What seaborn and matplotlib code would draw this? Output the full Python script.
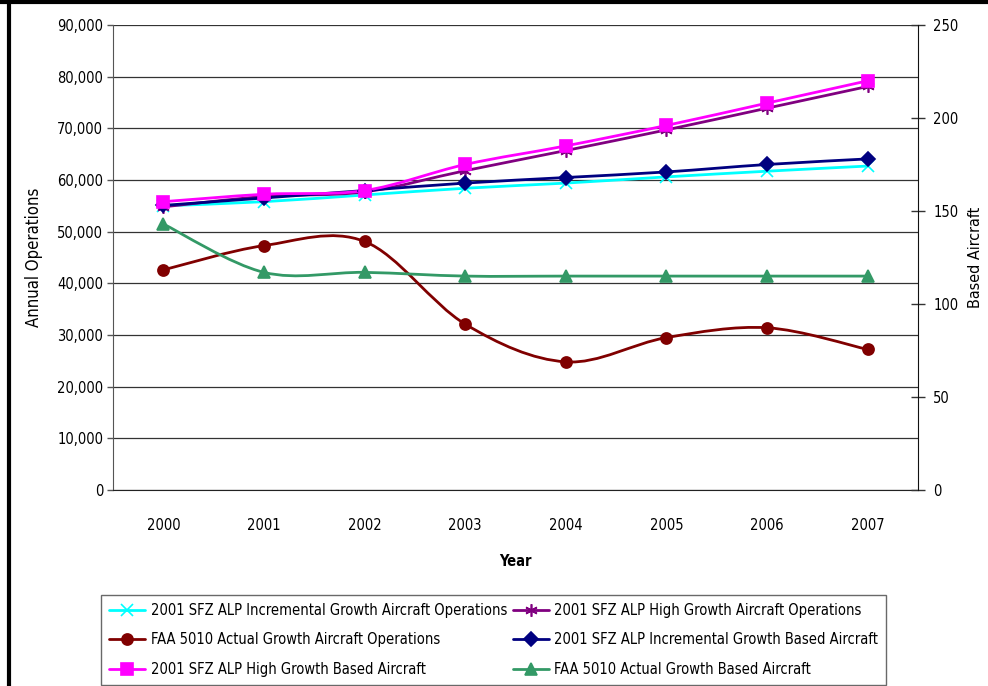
import numpy as np
import matplotlib
matplotlib.use('Agg')
import matplotlib.pyplot as plt
from matplotlib.path import Path
from matplotlib.patches import PathPatch
from matplotlib.lines import Line2D
import seaborn as sns

# Data
years = ['2000', '2001', '2002', '2003', '2004', '2005', '2006', '2007']
ops_incremental = [55000, 55800, 57100, 58400, 59400, 60600, 61700, 62700]
ops_high = [54800, 56800, 57700, 61800, 65700, 69700, 73900, 78100]
ops_actual = [42600, 47300, 48100, 32100, 24800, 29500, 31400, 27200]
based_incremental = [153, 157, 161, 165, 168, 171, 175, 178]
based_high = [155, 159, 161, 175, 185, 196, 208, 220]
based_actual = [143, 117, 117, 115, 115, 115, 115, 115]

sns.set_style('white')
plt.rcParams['font.family'] = ['DejaVu Sans']
plt.rcParams['font.stretch'] = 'condensed'
plt.rcParams['font.size'] = 10.5
plt.rcParams['text.color'] = 'black'
plt.rcParams['axes.labelcolor'] = 'black'
plt.rcParams['xtick.color'] = 'black'
plt.rcParams['ytick.color'] = 'black'


def smooth_path(xs, ys):
    # Excel style smoothed line: Catmull-Rom tangents turned into cubic Bezier segments
    pts = np.column_stack([xs, ys]).astype(float)
    n = len(pts)
    verts = [pts[0]]
    codes = [Path.MOVETO]
    for i in range(n - 1):
        p0 = pts[i - 1] if i > 0 else pts[i]
        p1 = pts[i]
        p2 = pts[i + 1]
        p3 = pts[i + 2] if i + 2 < n else pts[i + 1]
        c1 = p1 + (p2 - p0) / 6.0
        c2 = p2 - (p3 - p1) / 6.0
        verts += [c1, c2, p2]
        codes += [Path.CURVE4] * 3
    return Path(verts, codes)


fig = plt.figure(figsize=(9.88, 6.86), dpi=100)
ax = fig.add_axes([0.1144, 0.2857, 0.8148, 0.6779])
ax2 = ax.twinx()

x = np.arange(len(years))

series = [
    (ax, ops_incremental, '#00FFFF', 'x', 8, '2001 SFZ ALP Incremental Growth Aircraft Operations'),
    (ax, ops_high, '#800080', (6, 2, 0), 9, '2001 SFZ ALP High Growth Aircraft Operations'),
    (ax, ops_actual, '#800000', 'o', 8, 'FAA 5010 Actual Growth Aircraft Operations'),
    (ax2, based_incremental, '#000080', 'D', 7, '2001 SFZ ALP Incremental Growth Based Aircraft'),
    (ax2, based_high, '#FF00FF', 's', 8.5, '2001 SFZ ALP High Growth Based Aircraft'),
    (ax2, based_actual, '#339966', '^', 9, 'FAA 5010 Actual Growth Based Aircraft'),
]

handles = {}
for a, vals, col, mk, ms, lab in series:
    patch = PathPatch(smooth_path(x, vals), fill=False, edgecolor=col, lw=2, transform=a.transData, zorder=3)
    a.add_patch(patch)
    sns.lineplot(x=x, y=vals, ax=a, color=col, marker=mk, markersize=ms, linestyle='',
                 markeredgecolor=col, markeredgewidth=1.2, legend=False, zorder=4)
    handles[lab] = Line2D([], [], color=col, lw=2, marker=mk, markersize=ms,
                          markeredgecolor=col, markeredgewidth=1.2)

# left axis
ax.set_xlim(-0.5, len(years) - 0.5)
ax.set_ylim(0, 90000)
ax.set_yticks(np.arange(0, 90001, 10000))
ax.set_yticklabels([f'{v:,}' for v in range(0, 90001, 10000)])
ax.grid(axis='y', color='#333333', lw=0.9)
ax.set_axisbelow(True)
ax.tick_params(axis='y', direction='out', length=4, width=1, color='#555555', pad=3, labelsize=10.5)
ax.set_ylabel('Annual Operations', fontsize=12, labelpad=10)

# x axis: labels at categories, tick marks between them
ax.set_xticks(x)
ax.set_xticklabels(years)
ax.set_xticks(np.arange(-0.5, len(years)), minor=True)
ax.tick_params(axis='x', which='major', length=0, pad=20, labelsize=10.5)
ax.tick_params(axis='x', which='minor', direction='out', length=5, width=1, color='#333333')
ax.set_xlabel('Year', fontsize=10.5, fontweight='bold', labelpad=15)

# right axis
ax2.set_ylim(0, 250)
ax2.set_yticks(np.arange(0, 251, 50))
ax2.tick_params(axis='y', direction='inout', length=10, width=1, color='#333333', pad=6, labelsize=10.5)
ax2.set_ylabel('Based Aircraft', fontsize=11.5, labelpad=7)

for a in (ax, ax2):
    for s in a.spines.values():
        s.set_visible(False)
ax.spines['left'].set_visible(True)
ax.spines['left'].set_color('#555555')
ax.spines['bottom'].set_visible(True)
ax.spines['bottom'].set_color('#222222')
ax2.spines['right'].set_visible(True)
ax2.spines['right'].set_color('#111111')

order = ['2001 SFZ ALP Incremental Growth Aircraft Operations',
         'FAA 5010 Actual Growth Aircraft Operations',
         '2001 SFZ ALP High Growth Based Aircraft',
         '2001 SFZ ALP High Growth Aircraft Operations',
         '2001 SFZ ALP Incremental Growth Based Aircraft',
         'FAA 5010 Actual Growth Based Aircraft']
leg = fig.legend([handles[k] for k in order], order, ncol=2, loc='lower left',
                 bbox_to_anchor=(101 / 988, 1 / 686),
                 frameon=True, fancybox=False, edgecolor='#444444', fontsize=10.5,
                 handlelength=2.5, handletextpad=0.35, labelspacing=1.0, columnspacing=0.4,
                 borderpad=0.55, borderaxespad=0)
leg.get_frame().set_linewidth(1)

# outer chart frame (top and left edges visible)
fig.add_artist(Line2D([0, 1], [0.9975, 0.9975], transform=fig.transFigure, color='black', lw=3))
fig.add_artist(Line2D([0.0096, 0.0096], [0, 1], transform=fig.transFigure, color='black', lw=3))

fig.savefig('out.png', dpi=100)
